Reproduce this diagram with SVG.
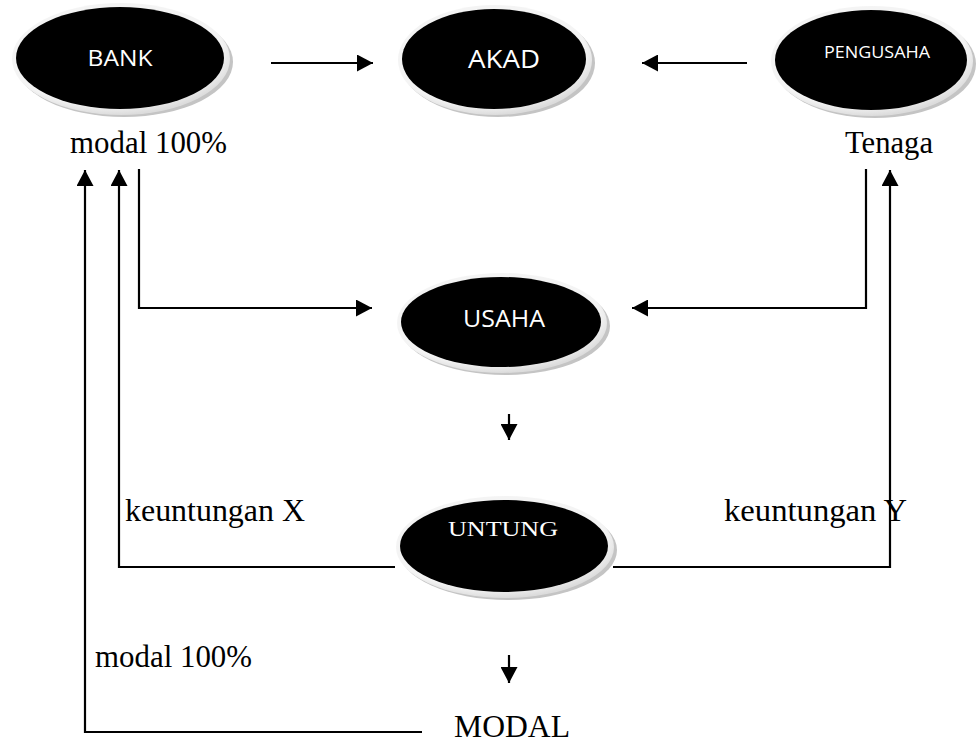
<svg xmlns="http://www.w3.org/2000/svg" width="976" height="744" viewBox="0 0 976 744">
<defs>
<radialGradient id="rim" cx="0.45" cy="0.4" r="0.6">
<stop offset="0.85" stop-color="#f4f4f4"/>
<stop offset="1" stop-color="#dcdcdc"/>
</radialGradient>
<marker id="ah" markerUnits="userSpaceOnUse" markerWidth="17" markerHeight="17" viewBox="0 0 17 17" refX="16" refY="8.5" orient="auto">
<path d="M0 0 L16 8.5 L0 17 Z" fill="#000"/>
</marker>
</defs>
<style>
.shadow{fill:#c4c4c4}
.rim{fill:url(#rim)}
.core{fill:#000}
.lbl{fill:#fff;font-family:"Open Sans","Liberation Sans",sans-serif;text-anchor:middle;dominant-baseline:central}
.ser{font-family:"Liberation Serif","Times New Roman",serif;font-size:31px;fill:#000}
.conn path{fill:none;stroke:#000;stroke-width:2.2}
.conn path.a{marker-end:url(#ah)}
</style>
<rect width="976" height="744" fill="#fff"/>

<g id="bank">
<ellipse class="shadow" cx="124" cy="62" rx="109" ry="55"/>
<ellipse class="rim" cx="121" cy="59" rx="109" ry="56"/>
<ellipse class="core" cx="120" cy="58" rx="104" ry="51"/>
<text class="lbl" x="120" y="57" font-size="22" textLength="65" lengthAdjust="spacingAndGlyphs">BANK</text>
</g>
<g id="akad">
<ellipse class="shadow" cx="498" cy="63" rx="97" ry="54"/>
<ellipse class="rim" cx="495" cy="60" rx="97" ry="55"/>
<ellipse class="core" cx="494" cy="59" rx="92" ry="50"/>
<text class="lbl" x="504" y="58" font-size="25" textLength="72" lengthAdjust="spacingAndGlyphs">AKAD</text>
</g>
<g id="pengusaha">
<ellipse class="shadow" cx="875" cy="64" rx="101" ry="54"/>
<ellipse class="rim" cx="872" cy="61" rx="101" ry="55"/>
<ellipse class="core" cx="871" cy="60" rx="96" ry="50"/>
<text class="lbl" x="877" y="52" font-size="16" textLength="106" lengthAdjust="spacingAndGlyphs">PENGUSAHA</text>
</g>
<g id="usaha">
<ellipse class="shadow" cx="505" cy="326" rx="105" ry="49"/>
<ellipse class="rim" cx="502" cy="323" rx="105" ry="50"/>
<ellipse class="core" cx="501" cy="322" rx="100" ry="45"/>
<text class="lbl" x="504" y="318" font-size="23" textLength="82" lengthAdjust="spacingAndGlyphs">USAHA</text>
</g>
<g id="untung">
<ellipse class="shadow" cx="508" cy="550" rx="109" ry="50"/>
<ellipse class="rim" cx="505" cy="547" rx="109" ry="51"/>
<ellipse class="core" cx="504" cy="546" rx="104" ry="46"/>
<text x="503" y="536" font-family="Liberation Serif,serif" font-size="21" fill="#fff" text-anchor="middle" textLength="110" lengthAdjust="spacingAndGlyphs">UNTUNG</text>
</g>

<g id="labels">
<text class="ser" x="70" y="153" textLength="157" lengthAdjust="spacingAndGlyphs">modal 100%</text>
<text class="ser" x="845" y="153" textLength="88" lengthAdjust="spacingAndGlyphs">Tenaga</text>
<text class="ser" x="125" y="521" textLength="180" lengthAdjust="spacingAndGlyphs">keuntungan X</text>
<text class="ser" x="724" y="521" textLength="183" lengthAdjust="spacingAndGlyphs">keuntungan Y</text>
<text class="ser" x="95" y="667" textLength="157" lengthAdjust="spacingAndGlyphs">modal 100%</text>
<text class="ser" x="454" y="737" textLength="116" lengthAdjust="spacingAndGlyphs">MODAL</text>
</g>

<g id="connectors" class="conn">
<path class="a" d="M271 63 H373"/>
<path class="a" d="M747 63 H642"/>
<path class="a" d="M139 169 V308 H372" stroke-width="1.8"/>
<path class="a" d="M866 169 V308 H632" stroke-width="1.8"/>
<path class="a" d="M509 414 V440"/>
<path class="a" d="M395 567 H119 V170"/>
<path class="a" d="M613 567 H890 V170"/>
<path class="a" d="M509 655 V683"/>
<path class="a" d="M422 732 H85 V170"/>
</g>
</svg>
